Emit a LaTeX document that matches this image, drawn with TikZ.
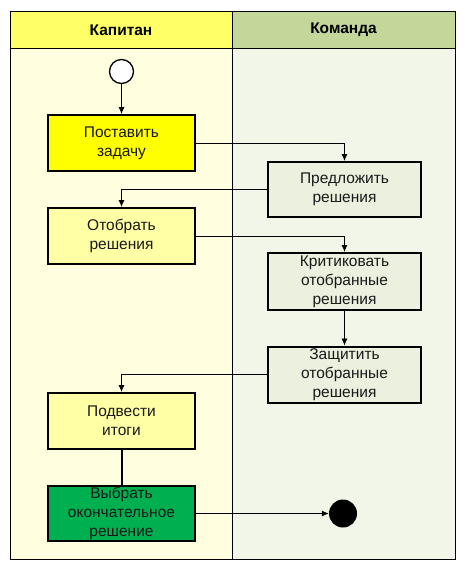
\documentclass[tikz,border=0pt]{standalone}
\usepackage{fontspec}
\setmainfont{Liberation Sans}
\usetikzlibrary{arrows.meta}
\definecolor{hdrA}{HTML}{FFFF66}
\definecolor{hdrB}{HTML}{C4D79B}
\definecolor{laneA}{HTML}{FFFFE0}
\definecolor{laneB}{HTML}{F2F6E8}
\definecolor{boxY}{HTML}{FFFF00}
\definecolor{boxLY}{HTML}{FFFFA6}
\definecolor{boxG}{HTML}{EBF1DE}
\definecolor{boxDG}{HTML}{00B050}
\tikzset{
  act/.style={draw=black, line width=2pt, minimum width=147pt, minimum height=56pt,
    align=center, inner sep=1pt, font=\fontsize{15.5}{19}\selectfont, text=black!90},
  flow/.style={draw=black, line width=0.8pt, -{Latex[length=7pt,width=6pt]}},
  hdr/.style={font=\fontsize{15.5}{18}\selectfont\bfseries}
}
\begin{document}
\begin{tikzpicture}[x=1pt,y=-1pt]
\useasboundingbox (0,0) rectangle (466,568);
% lanes
\fill[hdrA] (10,11) rectangle (232,48);
\fill[hdrB] (232,11) rectangle (455,48);
\fill[laneA] (10,48) rectangle (232,559);
\fill[laneB] (232,48) rectangle (455,559);
\draw[line width=1pt] (10,11) rectangle (455,559);
\draw[line width=1pt] (10,48) -- (455,48);
\draw[line width=1pt] (232,11) -- (232,559);
\node[hdr] (hA) at (121,30) {Капитан};
\node[hdr] (hB) at (343.5,30) {Команда};
% nodes
\node[circle, draw=black, line width=1.3pt, fill=white, minimum size=24pt, inner sep=0pt] (start) at (121.5,71.5) {};
\node[act, fill=boxY] (b1) at (121.5,143) {Поставить\\задачу};
\node[act, fill=boxG, minimum width=153pt, minimum height=55pt] (b2) at (344.5,189.5) {Предложить\\решения};
\node[act, fill=boxLY] (b3) at (121.5,236) {Отобрать\\решения};
\node[act, fill=boxG, minimum width=153pt, minimum height=57pt] (b4) at (344.5,281.5) {Критиковать\\отобранные\\решения};
\node[act, fill=boxG, minimum width=153pt, minimum height=56pt] (b5) at (344.5,374.5) {Защитить\\отобранные\\решения};
\node[act, fill=boxLY] (b6) at (121.5,421) {Подвести\\итоги};
\node[act, fill=boxDG, minimum height=55pt] (b7) at (121.5,513.5) {Выбрать\\окончательное\\решение};
\node[circle, fill=black, minimum size=28pt, inner sep=0pt] (end) at (343,513.5) {};
% connectors
\draw[flow] (start) -- (b1);
\draw[flow] (b1.east) -| (b2.north);
\draw[flow] (b2.west) -| (b3.north);
\draw[flow] (b3.east) -| (b4.north);
\draw[flow] (b4) -- (b5);
\draw[flow] (b5.west) -| (b6.north);
\draw[line width=2pt] (b6) -- (b7);
\draw[flow] (b7) -- (end);
\end{tikzpicture}
\end{document}
